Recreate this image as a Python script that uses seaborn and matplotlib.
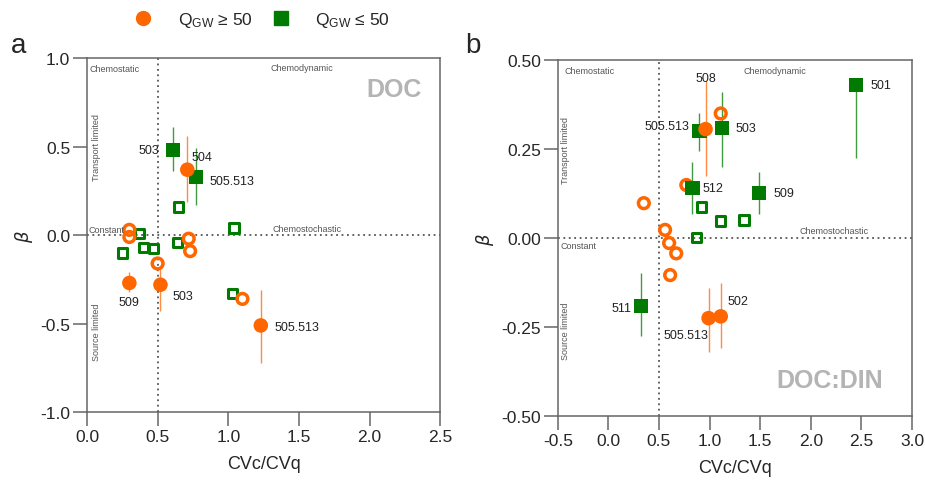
import numpy as np
import pandas as pd
import matplotlib
matplotlib.use("Agg")
import matplotlib.pyplot as plt
from matplotlib.lines import Line2D
import seaborn as sns

# ---- panel a: DOC ----
a_fill_g_x = [0.61, 0.77]
a_fill_g_y = [0.48, 0.33]
a_fill_g_lo = [0.36, 0.17]
a_fill_g_hi = [0.61, 0.49]
a_fill_g_lab = ["503", "505.513"]

a_fill_o_x = [0.71, 0.30, 0.52, 1.23]
a_fill_o_y = [0.37, -0.27, -0.28, -0.51]
a_fill_o_lo = [0.19, -0.32, -0.43, -0.72]
a_fill_o_hi = [0.56, -0.21, -0.19, -0.31]
a_fill_o_lab = ["504", "509", "503", "505.513"]

a_open_g_x = [0.25, 0.37, 0.40, 0.47, 0.64, 0.65, 1.04, 1.03]
a_open_g_y = [-0.10, 0.01, -0.07, -0.075, -0.04, 0.16, 0.04, -0.33]

a_open_o_x = [0.30, 0.30, 0.50, 0.72, 0.73, 1.10]
a_open_o_y = [0.03, -0.01, -0.16, -0.02, -0.09, -0.36]

# ---- panel b: DOC:DIN ----
b_fill_g_x = [2.45, 1.12, 0.90, 0.83, 1.49, 0.32]
b_fill_g_y = [0.43, 0.31, 0.30, 0.14, 0.127, -0.19]
b_fill_g_lo = [0.225, 0.20, 0.245, 0.067, 0.067, -0.275]
b_fill_g_hi = [0.44, 0.41, 0.35, 0.215, 0.185, -0.098]
b_fill_g_lab = ["501", "503", "505.513", "512", "509", "511"]

b_fill_o_x = [0.96, 0.99, 1.11]
b_fill_o_y = [0.306, -0.225, -0.22]
b_fill_o_lo = [0.175, -0.32, -0.31]
b_fill_o_hi = [0.44, -0.14, -0.125]
b_fill_o_lab = ["508", "505.513", "502"]

b_open_g_x = [0.92, 1.11, 1.34, 0.87]
b_open_g_y = [0.087, 0.048, 0.051, 0.002]

b_open_o_x = [1.11, 0.77, 0.35, 0.56, 0.60, 0.67, 0.61]
b_open_o_y = [0.35, 0.149, 0.098, 0.023, -0.014, -0.043, -0.104]

ORANGE = "#ff6600"
GREEN = "#007a00"
GREY = "#666666"

sns.set_style("ticks")
plt.rcParams["font.family"] = ["Liberation Sans", "DejaVu Sans"]
plt.rcParams["mathtext.default"] = "regular"
plt.rcParams["axes.unicode_minus"] = False

fig = plt.figure(figsize=(9.25, 4.81), dpi=100)
ax_a = fig.add_axes([0.094, 0.141, 0.382, 0.736])
ax_b = fig.add_axes([0.603, 0.133, 0.383, 0.740])


def draw_panel(ax, fg, fo, og, oo):
    # error bars first, below the markers
    for (x, y, lo, hi, lab), col in [(fg, GREEN), (fo, ORANGE)]:
        y = np.array(y)
        ax.errorbar(x, y, yerr=[y - np.array(lo), np.array(hi) - y], fmt="none",
                    ecolor=col, elinewidth=1.0, alpha=0.75, capsize=0, zorder=2)
    sns.scatterplot(x=og[0], y=og[1], marker="s", s=45, facecolors="none",
                    edgecolor=GREEN, linewidth=2.2, ax=ax, zorder=3)
    sns.scatterplot(x=oo[0], y=oo[1], marker="o", s=60, facecolors="none",
                    edgecolor=ORANGE, linewidth=2.5, ax=ax, zorder=3)
    sns.scatterplot(x=fg[0], y=fg[1], marker="s", s=105, color=GREEN,
                    edgecolor="none", ax=ax, zorder=4)
    sns.scatterplot(x=fo[0], y=fo[1], marker="o", s=110, color=ORANGE,
                    edgecolor="none", ax=ax, zorder=4)


def style_axes(ax):
    for sp in ax.spines.values():
        sp.set_color(GREY)
        sp.set_linewidth(1.1)
    ax.tick_params(length=10, width=1.1, color=GREY, labelsize=12.5, pad=2)
    ax.axvline(0.5, color="#555555", ls=(0, (1, 2)), lw=1.3, zorder=1)
    ax.axhline(0.0, color="#555555", ls=(0, (1, 2)), lw=1.3, zorder=1)
    ax.set_xlabel("CVc/CVq", fontsize=13, labelpad=8)
    ax.set_ylabel(r"$\it{\beta}$", fontsize=13, labelpad=4)


def label_points(ax, xs, ys, labs, offsets):
    for x, y, lab, (dx, dy, ha) in zip(xs, ys, labs, offsets):
        ax.annotate(lab, (x, y), xytext=(dx, dy), textcoords="offset points",
                    ha=ha, va="center", fontsize=9, color="#222222", zorder=5)


# panel a
draw_panel(ax_a,
           (a_fill_g_x, a_fill_g_y, a_fill_g_lo, a_fill_g_hi, a_fill_g_lab),
           (a_fill_o_x, a_fill_o_y, a_fill_o_lo, a_fill_o_hi, a_fill_o_lab),
           (a_open_g_x, a_open_g_y), (a_open_o_x, a_open_o_y))
style_axes(ax_a)
ax_a.set_xlim(0, 2.5)
ax_a.set_ylim(-1.0, 1.0)
ax_a.set_xticks(np.arange(0, 2.51, 0.5))
ax_a.set_yticks(np.arange(-1.0, 1.01, 0.5))
ax_a.xaxis.set_major_formatter("{x:.1f}")
ax_a.yaxis.set_major_formatter("{x:.1f}")
label_points(ax_a, a_fill_g_x, a_fill_g_y, a_fill_g_lab,
             [(-10, 0, "right"), (10, -3, "left")])
label_points(ax_a, a_fill_o_x, a_fill_o_y, a_fill_o_lab,
             [(3, 9, "left"), (0, -14, "center"), (9, -8, "left"), (10, -1, "left")])
small = dict(fontsize=6.5, color="#555555", va="center")
ax_a.text(0.02, 0.944, "Chemostatic", ha="left", **small)
ax_a.text(1.30, 0.95, "Chemodynamic", ha="left", **small)
ax_a.text(0.065, 0.50, "Transport limited", ha="center", rotation=90, **small)
ax_a.text(0.01, 0.03, "Constant", ha="left", **small)
ax_a.text(1.31, 0.04, "Chemostochastic", ha="left", **small)
ax_a.text(0.065, -0.54, "Source limited", ha="center", rotation=90, **small)
ax_a.text(2.37, 0.825, "DOC", ha="right", va="center", fontsize=18,
          fontweight="bold", color="#b4b4b4")

# panel b
draw_panel(ax_b,
           (b_fill_g_x, b_fill_g_y, b_fill_g_lo, b_fill_g_hi, b_fill_g_lab),
           (b_fill_o_x, b_fill_o_y, b_fill_o_lo, b_fill_o_hi, b_fill_o_lab),
           (b_open_g_x, b_open_g_y), (b_open_o_x, b_open_o_y))
style_axes(ax_b)
ax_b.set_xlim(-0.5, 3.0)
ax_b.set_ylim(-0.5, 0.5)
ax_b.set_xticks(np.arange(-0.5, 3.01, 0.5))
ax_b.set_yticks(np.arange(-0.5, 0.51, 0.25))
ax_b.xaxis.set_major_formatter("{x:.1f}")
ax_b.yaxis.set_major_formatter("{x:.2f}")
label_points(ax_b, b_fill_g_x, b_fill_g_y, b_fill_g_lab,
             [(10, 0, "left"), (10, 0, "left"), (-7, 4, "right"),
              (7, 0, "left"), (10, 0, "left"), (-7, -2, "right")])
label_points(ax_b, b_fill_o_x, b_fill_o_y, b_fill_o_lab,
             [(0, 37, "center"), (0, -12, "right"), (5, 11, "left")])
ax_b.text(-0.43, 0.47, "Chemostatic", ha="left", **small)
ax_b.text(1.33, 0.47, "Chemodynamic", ha="left", **small)
ax_b.text(-0.42, 0.25, "Transport limited", ha="center", rotation=90, **small)
ax_b.text(1.89, 0.02, "Chemostochastic", ha="left", **small)
ax_b.text(-0.47, -0.022, "Constant", ha="left", **small)
ax_b.text(-0.42, -0.26, "Source limited", ha="center", rotation=90, **small)
ax_b.text(2.71, -0.40, "DOC:DIN", ha="right", va="center", fontsize=18,
          fontweight="bold", color="#b4b4b4")

# panel letters
fig.text(0.012, 0.905, "a", fontsize=20, va="center")
fig.text(0.503, 0.905, "b", fontsize=20, va="center")

# legend
handles = [
    Line2D([], [], marker="o", ls="none", color=ORANGE, markersize=10),
    Line2D([], [], marker="s", ls="none", color=GREEN, markersize=10),
]
fig.legend(handles, ["Q$_{GW}$ ≥ 50", "Q$_{GW}$ ≤ 50"], loc="center",
           bbox_to_anchor=(0.279, 0.958), ncol=2, frameon=False, fontsize=12.5,
           handletextpad=1.0, columnspacing=0.6)

fig.savefig("out.png", dpi=100)
